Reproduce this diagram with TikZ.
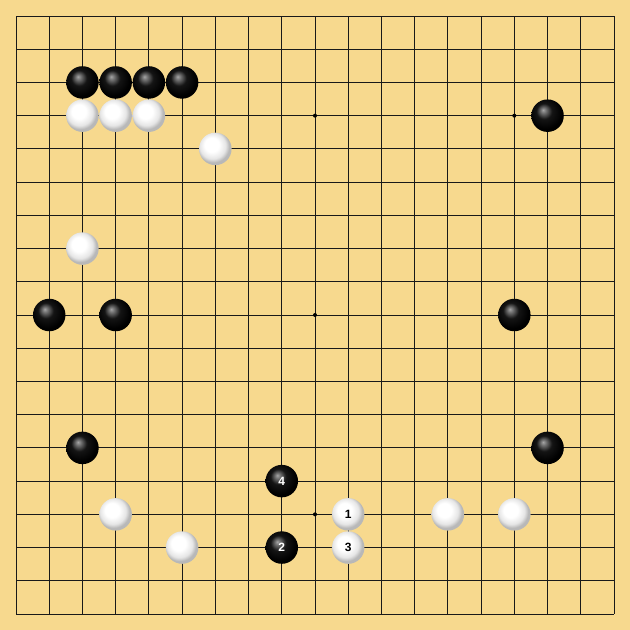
\documentclass[tikz,border=0pt]{standalone}
\usepackage{fontspec}
\setsansfont{Liberation Sans}
\pgfdeclareradialshading{wstoneshade}{\pgfpoint{-7bp}{8bp}}{color(0bp)=(white); color(11bp)=(white); color(20bp)=(black!10); color(25bp)=(black!28); color(50bp)=(black!28)}
\pgfdeclareradialshading{bstoneshade}{\pgfpoint{-7bp}{9bp}}{color(0bp)=(black!35); color(4bp)=(black!55); color(12bp)=(black!92); color(25bp)=(black); color(50bp)=(black)}
\begin{document}
\begin{tikzpicture}[x=1pt,y=-1pt,
  bstone/.style={circle,minimum size=32.5pt,inner sep=0pt,shading=bstoneshade,text=white,font=\sffamily\bfseries\fontsize{12}{12}\selectfont},
  wstone/.style={circle,minimum size=32.5pt,inner sep=0pt,shading=wstoneshade,text=black,font=\sffamily\bfseries\fontsize{12}{12}\selectfont},
  star/.style={circle,fill=black,minimum size=4pt,inner sep=0pt}]
\definecolor{wood}{HTML}{F7D98E}
\fill[wood] (0,0) rectangle (630,630);
\useasboundingbox (0,0) rectangle (630,630);
\foreach \i in {0,...,18}{
  \draw[line width=1pt,black!90] (16+\i*33.222,16) -- (16+\i*33.222,614);
  \draw[line width=1pt,black!90] (16,16+\i*33.222) -- (614,16+\i*33.222);
}
\foreach \c/\r [count=\k] in {3/3,9/3,15/3,3/9,9/9,15/9,3/15,9/15,15/15}
  \node[star] (s\k) at (16+\c*33.222,16+\r*33.222) {};
% black stones
\foreach \c/\r [count=\k] in {2/2,3/2,4/2,5/2,16/3,1/9,3/9,15/9,2/13,16/13}
  \node[bstone] (b\k) at (16+\c*33.222,16+\r*33.222) {};
% white stones
\foreach \c/\r [count=\k] in {2/3,3/3,4/3,6/4,2/7,3/15,13/15,15/15,5/16}
  \node[wstone] (w\k) at (16+\c*33.222,16+\r*33.222) {};
% numbered moves
\node[wstone] (m1) at (16+10*33.222,16+15*33.222) {1};
\node[bstone] (m2) at (16+8*33.222,16+16*33.222) {2};
\node[wstone] (m3) at (16+10*33.222,16+16*33.222) {3};
\node[bstone] (m4) at (16+8*33.222,16+14*33.222) {4};
\end{tikzpicture}
\end{document}
